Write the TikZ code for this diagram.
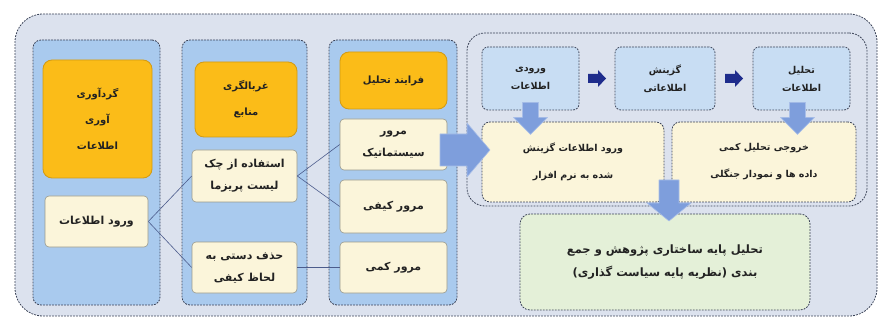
\documentclass[tikz,border=0pt]{standalone}
\usepackage{fontspec}
\usetikzlibrary{calc}
\TeXXeTstate=1
\newfontfamily\arabicfont[Script=Arabic]{DejaVu Sans}
\newcommand\fa[1]{\beginR #1\endR}
\definecolor{outerbg}{HTML}{DCE2EE}
\definecolor{panelbg}{HTML}{A9CAEE}
\definecolor{orangebg}{HTML}{FBBC18}
\definecolor{orangebd}{HTML}{D39A12}
\definecolor{creambg}{HTML}{FBF5DA}
\definecolor{creambd}{HTML}{9A9A8C}
\definecolor{topbg}{HTML}{C8DDF3}
\definecolor{greenbg}{HTML}{E4F0D8}
\definecolor{dashbd}{HTML}{3C4458}
\definecolor{arrowbl}{HTML}{7E9EDC}
\definecolor{arrowbd}{HTML}{A8BEE8}
\definecolor{navy}{HTML}{1E2C8C}
\definecolor{linkc}{HTML}{4C5C8C}
\definecolor{txt}{HTML}{222222}
\tikzset{
  dashbox/.style={draw=dashbd, line width=0.8pt, dash pattern=on 1.8pt off 1.2pt},
  panel/.style={dashbox, fill=panelbg, rounded corners=8pt},
  orangebox/.style={draw=orangebd, line width=0.8pt, fill=orangebg, rounded corners=9pt, text=txt, align=center, inner sep=0pt,
    font=\arabicfont\bfseries\fontsize{10}{26}\selectfont},
  creambox/.style={draw=creambd, line width=0.6pt, fill=creambg, rounded corners=4pt, text=txt, align=center, inner sep=0pt,
    font=\arabicfont\bfseries\fontsize{11}{22}\selectfont},
  topbox/.style={dashbox, fill=topbg, rounded corners=6pt, text=txt, align=center, inner sep=0pt,
    font=\arabicfont\bfseries\fontsize{9.5}{18}\selectfont},
  outbox/.style={dashbox, fill=creambg, rounded corners=8pt, text=txt, align=center, inner sep=0pt,
    font=\arabicfont\bfseries\fontsize{9.5}{27}\selectfont},
  greenbox/.style={dashbox, fill=greenbg, rounded corners=10pt, text=txt, align=center, inner sep=0pt,
    font=\arabicfont\bfseries\fontsize{11.5}{23}\selectfont},
  link/.style={draw=linkc, line width=0.6pt},
  blockarrow/.style={fill=arrowbl, draw=arrowbd, line width=0.6pt, line join=round},
  navyarrow/.style={fill=navy},
}
\begin{document}
\begin{tikzpicture}[x=1pt,y=-1pt]
\useasboundingbox (0,0) rectangle (883,323);
% outer frame
\node[dashbox, fill=outerbg, rounded corners=28pt, minimum width=862pt, minimum height=302pt, inner sep=0pt] (outer) at (446,165) {};
% panels
\node[panel, minimum width=127pt, minimum height=265pt, inner sep=0pt] (p1) at (96.5,172.5) {};
\node[panel, minimum width=125pt, minimum height=265pt, inner sep=0pt] (p2) at (244.5,172.5) {};
\node[panel, minimum width=128pt, minimum height=265pt, inner sep=0pt] (p3) at (393,172.5) {};
% column 1
\node[orangebox, minimum width=109pt, minimum height=118pt] (o1) at (97.5,119) {\fa{گردآوری}\\\fa{آوری}\\\fa{اطلاعات}};
\node[creambox, minimum width=103pt, minimum height=51pt] (in1) at (96.5,221.5) {\fa{ورود اطلاعات}};
% column 2
\node[orangebox, minimum width=102pt, minimum height=75pt] (o2) at (246,99.5) {\fa{غربالگری}\\\fa{منابع}};
\node[creambox, minimum width=105pt, minimum height=52pt] (chk) at (244.5,176) {\fa{استفاده از چک}\\\fa{لیست پریزما}};
\node[creambox, minimum width=105pt, minimum height=51pt] (del) at (244.5,267.5) {\fa{حذف دستی به}\\\fa{لحاظ کیفی}};
% column 3
\node[orangebox, minimum width=107pt, minimum height=57pt] (o3) at (393.5,80.5) {\fa{فرایند تحلیل}};
\node[creambox, minimum width=107pt, minimum height=51pt] (sys) at (393.5,144.5) {\fa{مرور}\\\fa{سیستماتیک}};
\node[creambox, minimum width=107pt, minimum height=53pt] (kay) at (393.5,206.5) {\fa{مرور کیفی}};
\node[creambox, minimum width=107pt, minimum height=51pt] (kam) at (393.5,267.5) {\fa{مرور کمی}};
% links
\draw[link] (in1.east) -- (chk.west);
\draw[link] (in1.east) -- (del.west);
\draw[link] (chk.east) -- (sys.west);
\draw[link] (chk.east) -- (kay.west);
\draw[link] (del.east) -- (kam.west);
% right group
\node[dashbox, fill=outerbg, rounded corners=18pt, minimum width=400pt, minimum height=173pt, inner sep=0pt] (grp) at (667,119.5) {};
\node[topbox, minimum width=97pt, minimum height=63pt] (t1) at (530.5,78.5) {\fa{ورودی}\\\fa{اطلاعات}};
\node[topbox, minimum width=100pt, minimum height=63pt] (t2) at (665,78.5) {\fa{گزینش}\\\fa{اطلاعاتی}};
\node[topbox, minimum width=97pt, minimum height=63pt] (t3) at (801.5,78.5) {\fa{تحلیل}\\\fa{اطلاعات}};
\node[outbox, minimum width=182pt, minimum height=80pt] (b1) at (573,162) {\fa{ورود اطلاعات گزینش}\\\fa{شده به نرم افزار}};
\node[outbox, minimum width=184pt, minimum height=80pt] (b2) at (764,162) {\fa{خروجی تحلیل کمی}\\\fa{داده ها و نمودار جنگلی}};
\node[greenbox, minimum width=290pt, minimum height=96pt] (g) at (665,262) {\fa{تحلیل پایه ساختاری پژوهش و جمع}\\\fa{بندی (نظریه پایه سیاست گذاری)}};
% navy arrows
\coordinate (n1) at ($(t1.east)!0.5!(t2.west)$);
\coordinate (n2) at ($(t2.east)!0.5!(t3.west)$);
\foreach \c in {n1,n2}{
  \fill[navyarrow] ([xshift=-9pt,yshift=-4.5pt]\c) -- ([xshift=1pt,yshift=-4.5pt]\c) -- ([xshift=1pt,yshift=-8.5pt]\c) -- ([xshift=9pt]\c) -- ([xshift=1pt,yshift=8.5pt]\c) -- ([xshift=1pt,yshift=4.5pt]\c) -- ([xshift=-9pt,yshift=4.5pt]\c) -- cycle;
}
% down arrows from top boxes
\coordinate (d1) at ([yshift=8pt]t1.south);
\coordinate (d3) at ([xshift=-4pt,yshift=8pt]t3.south);
\foreach \c in {d1,d3}{
  \draw[blockarrow] ([xshift=-8pt]\c) -- ([xshift=8pt]\c) -- ([xshift=8pt,yshift=-15pt]\c) -- ([xshift=17pt,yshift=-15pt]\c) -- ([yshift=-32pt]\c) -- ([xshift=-17pt,yshift=-15pt]\c) -- ([xshift=-8pt,yshift=-15pt]\c) -- cycle;
}
% big down arrow into green box
\coordinate (d2) at (669,180);
\draw[blockarrow] ([xshift=-10pt]d2) -- ([xshift=10pt]d2) -- ([xshift=10pt,yshift=-23pt]d2) -- ([xshift=22pt,yshift=-23pt]d2) -- ([yshift=-41pt]d2) -- ([xshift=-22pt,yshift=-23pt]d2) -- ([xshift=-10pt,yshift=-23pt]d2) -- cycle;
% big right arrow from column 3 to group
\coordinate (r1) at (440,150);
\draw[blockarrow] ([yshift=-16pt]r1) -- ([xshift=27pt,yshift=-16pt]r1) -- ([xshift=27pt,yshift=-27pt]r1) -- ([xshift=50pt]r1) -- ([xshift=27pt,yshift=27pt]r1) -- ([xshift=27pt,yshift=16pt]r1) -- ([yshift=16pt]r1) -- cycle;
\end{tikzpicture}
\end{document}
